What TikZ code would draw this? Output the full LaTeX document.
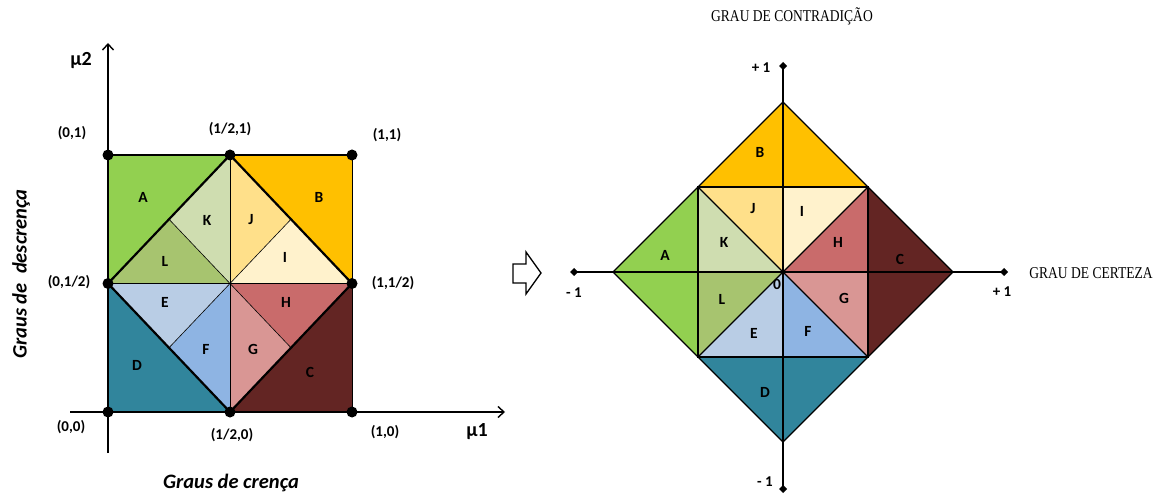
\documentclass[tikz,border=0pt]{standalone}
\usepackage{fontspec}
\setmainfont{Carlito}
\newfontfamily\capfont[FakeStretch=0.82]{Liberation Serif}
\usetikzlibrary{arrows.meta,calc}
\definecolor{regA}{HTML}{92D050}
\definecolor{regB}{HTML}{FFC000}
\definecolor{regC}{HTML}{632523}
\definecolor{regD}{HTML}{31859C}
\definecolor{regE}{HTML}{B9CDE5}
\definecolor{regF}{HTML}{8EB4E3}
\definecolor{regG}{HTML}{D99694}
\definecolor{regH}{HTML}{C96B6B}
\definecolor{regI}{HTML}{FFF2CC}
\definecolor{regJ}{HTML}{FFE08A}
\definecolor{regK}{HTML}{CFDDB0}
\definecolor{regL}{HTML}{A7C46F}
\tikzset{
  reglbl/.style={font=\bfseries\fontsize{15.5}{15.5}\selectfont,inner sep=0pt},
  ptlbl/.style={font=\bfseries\fontsize{15}{15}\selectfont,inner sep=0pt},
  axlbl/.style={font=\bfseries\itshape\fontsize{20.5}{20.5}\selectfont,inner sep=0pt},
  caplbl/.style={font=\capfont\fontsize{16.5}{16.5}\selectfont,inner sep=0pt},
  vertex/.style={circle,fill=black,inner sep=0pt,minimum size=11pt},
  thinline/.style={line width=0.8pt},
  thickline/.style={line width=2.2pt,line join=round},
  axis/.style={line width=1.4pt,-{Straight Barb[length=6pt,width=11pt,line width=1.4pt]}},
  certaxis/.style={line width=2.4pt,{Diamond[length=8pt,width=8pt]}-{Diamond[length=8pt,width=8pt]}}
}

\begin{document}
\begin{tikzpicture}[x=1pt,y=-1pt]

    \useasboundingbox (0,0) rectangle (1168,497);

    % reticulado do plano mu1 x mu2

    \coordinate (p00) at (108,412);  \coordinate (pm0) at (230,412);  \coordinate (p10) at (352,412);
    \coordinate (p0m) at (108,283.5);\coordinate (pmm) at (230,283.5);\coordinate (p1m) at (352,283.5);
    \coordinate (p01) at (108,155);  \coordinate (pm1) at (230,155);  \coordinate (p11) at (352,155);
    \coordinate (qa) at ($(p0m)!0.5!(pm1)$);
    \coordinate (qb) at ($(pm1)!0.5!(p1m)$);
    \coordinate (qc) at ($(p1m)!0.5!(pm0)$);
    \coordinate (qd) at ($(pm0)!0.5!(p0m)$);

    \fill[regA] (p01) -- (pm1) -- (p0m) -- cycle;
    \fill[regB] (pm1) -- (p11) -- (p1m) -- cycle;
    \fill[regC] (p1m) -- (p10) -- (pm0) -- cycle;
    \fill[regD] (p0m) -- (p00) -- (pm0) -- cycle;
    \fill[regK] (pmm) -- (pm1) -- (qa) -- cycle;
    \fill[regL] (pmm) -- (qa) -- (p0m) -- cycle;
    \fill[regJ] (pmm) -- (pm1) -- (qb) -- cycle;
    \fill[regI] (pmm) -- (qb) -- (p1m) -- cycle;
    \fill[regH] (pmm) -- (p1m) -- (qc) -- cycle;
    \fill[regG] (pmm) -- (qc) -- (pm0) -- cycle;
    \fill[regF] (pmm) -- (pm0) -- (qd) -- cycle;
    \fill[regE] (pmm) -- (qd) -- (p0m) -- cycle;

    \draw[thinline] (pm1) -- (pm0) (p0m) -- (p1m) (p11) -- (p10);
    \draw[line width=0.6pt] (qa) -- (qc) (qb) -- (qd);
    \draw[thickline] (p01) -- (p11);
    \draw[thickline] (pm1) -- (p1m) -- (pm0) -- (p0m) -- cycle;

    % eixos
    \coordinate (ybot) at (108,453);  \coordinate (ytop) at (108,43);
    \coordinate (xlft) at (70,412);   \coordinate (xrgt) at (505,412);
    \draw[axis] (ybot) -- (ytop);
    \draw[axis] (xlft) -- (xrgt);

    \foreach \p in {p00,pm0,p10,p0m,p1m,p01,pm1,p11}
      \node[vertex] (v\p) at (\p) {};

    \node[ptlbl] (l01) at (72,133) {(0,1)};
    \node[ptlbl] (lm1) at (230,129) {(1/2,1)};
    \node[ptlbl] (l11) at (387,135) {(1,1)};
    \node[ptlbl] (l0m) at (69,282) {(0,1/2)};
    \node[ptlbl] (l1m) at (393,283) {(1,1/2)};
    \node[ptlbl] (l00) at (71,427) {(0,0)};
    \node[ptlbl] (lm0) at (232,435) {(1/2,0)};
    \node[ptlbl] (l10) at (385,432) {(1,0)};
    \node[ptlbl,font=\bfseries\fontsize{20}{20}\selectfont] (mu2) at (81,61) {µ2};
    \node[ptlbl,font=\bfseries\fontsize{20}{20}\selectfont] (mu1) at (477,432) {µ1};
    \node[axlbl] (crenca) at (231,483) {Graus de crença};
    \node[axlbl,rotate=90] (descrenca) at (21,274) {Graus de\ \ descrença};

    \foreach \r/\x/\y in {A/143/197,B/319/197,K/207/220,J/251/220,L/165/261,I/285/257,
                          E/165/302,H/286/302,F/206/349,G/253/349,D/137/365,C/310/372}
      \node[reglbl] (s\r) at (\x,\y) {\r};

    % seta de passagem
    \draw[line width=1.3pt,line join=miter] (513,264) -- (526,264) -- (526,252) -- (541,273)
      -- (526,294) -- (526,283) -- (513,283) -- cycle;

    % reticulado certeza x contradicao

    \coordinate (o) at (783,272);
    \coordinate (dT) at (783,102);  \coordinate (dB) at (783,442);
    \coordinate (dL) at (613,272);  \coordinate (dR) at (953,272);
    \coordinate (cTL) at (698,187); \coordinate (cTR) at (868,187);
    \coordinate (cBR) at (868,357); \coordinate (cBL) at (698,357);
    \coordinate (mT) at (783,187);  \coordinate (mB) at (783,357);
    \coordinate (mL) at (698,272);  \coordinate (mR) at (868,272);

    \fill[regB] (dT) -- (cTL) -- (cTR) -- cycle;
    \fill[regA] (dL) -- (cTL) -- (cBL) -- cycle;
    \fill[regC] (dR) -- (cTR) -- (cBR) -- cycle;
    \fill[regD] (dB) -- (cBL) -- (cBR) -- cycle;
    \fill[regJ] (o) -- (cTL) -- (mT) -- cycle;
    \fill[regI] (o) -- (mT) -- (cTR) -- cycle;
    \fill[regH] (o) -- (cTR) -- (mR) -- cycle;
    \fill[regG] (o) -- (mR) -- (cBR) -- cycle;
    \fill[regF] (o) -- (cBR) -- (mB) -- cycle;
    \fill[regE] (o) -- (mB) -- (cBL) -- cycle;
    \fill[regL] (o) -- (cBL) -- (mL) -- cycle;
    \fill[regK] (o) -- (mL) -- (cTL) -- cycle;

    \draw[line width=1.3pt,line join=round] (dT) -- (dR) -- (dB) -- (dL) -- cycle;
    \draw[line width=1.3pt] (cTL) rectangle (cBR);
    \draw[line width=1.1pt] (cTL) -- (cBR) (cTR) -- (cBL);

    \coordinate (cxl) at (570,272);  \coordinate (cxr) at (1008,272);
    \coordinate (cyb) at (783,493);  \coordinate (cyt) at (783,62);
    \draw[certaxis] (cxl) -- (cxr);
    \draw[certaxis] (cyb) -- (cyt);

    \foreach \r/\x/\y in {B/760/152,J/753/209,I/802/211,K/724/242,H/838/242,A/665/255,
                          C/900/259,L/722/299,G/844/298,E/754/333,F/808/331,D/765/392}
      \node[reglbl] (t\r) at (\x,\y) {\r};
    \node[reglbl] (zero) at (777,284) {0};

    \node[ptlbl] (cmin) at (574,293) {- 1};
    \node[ptlbl] (cmax) at (1002,292) {+ 1};
    \node[ptlbl] (kmax) at (761,68) {+ 1};
    \node[ptlbl] (kmin) at (765,482) {- 1};
    \node[caplbl] (contra) at (792,16) {GRAU DE CONTRADIÇÃO};
    \node[caplbl] (certeza) at (1091,273) {GRAU DE CERTEZA};

  \end{tikzpicture}
\end{document}
